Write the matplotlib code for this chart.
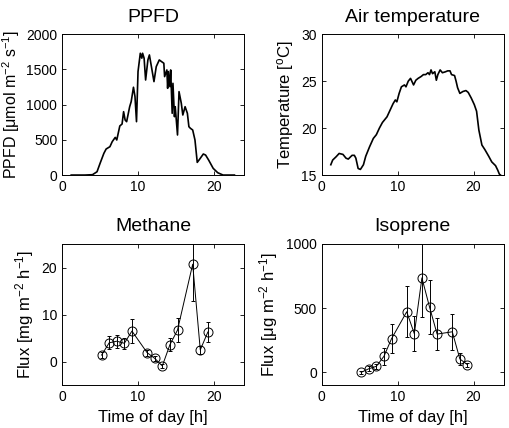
import numpy as np
import matplotlib
matplotlib.use("Agg")
import matplotlib.pyplot as plt

plt.rcParams['font.family'] = ['Liberation Sans', 'DejaVu Sans']
plt.rcParams['mathtext.default'] = 'regular'
plt.rcParams['mathtext.fontset'] = 'custom'
plt.rcParams['mathtext.rm'] = 'Liberation Sans'

# PPFD trace (hour, umol m-2 s-1)
ppfd_t = [1.2, 3.0, 4.0, 4.6, 5.0, 5.5, 5.8, 6.3, 6.6, 7.0, 7.2, 7.6, 7.9, 8.1, 8.3, 8.5,
          8.9, 9.1, 9.4, 9.6, 9.8, 10.0, 10.3, 10.5, 10.6, 10.8, 11.0, 11.3, 11.5, 11.8,
          12.1, 12.4, 12.8, 13.1, 13.4, 13.5, 13.8, 13.9, 14.0, 14.2, 14.3, 14.5, 14.6,
          14.8, 14.9, 15.2, 15.4, 15.7, 15.9, 16.2, 16.5, 16.7, 16.9, 17.2, 17.5, 17.8,
          18.1, 18.6, 18.9, 19.3, 19.9, 20.5, 21.2, 22.7]
ppfd_v = [0, 0, 5, 47, 166, 308, 370, 403, 474, 535, 498, 697, 725, 900, 782, 758,
          971, 1043, 1247, 1114, 758, 1470, 1730, 1660, 1730, 1660, 1350, 1635, 1706, 1517,
          1327, 1540, 1635, 1611, 1588, 1398, 1493, 1232, 1470, 1256, 1493, 877, 1303,
          829, 971, 569, 1185, 1019, 853, 971, 877, 687, 664, 640, 498, 180,
          223, 299, 284, 213, 95, 33, 0, 0]

# air temperature trace (hour, degC)
temp_t = [1.2, 1.45, 1.9, 2.3, 2.8, 3.2, 3.5, 4.0, 4.3, 4.5, 4.8, 5.1, 5.5, 5.8, 6.3,
          6.8, 7.2, 7.6, 8.0, 8.6, 9.0, 9.4, 9.7, 9.9, 10.2, 10.5, 10.9, 11.1, 11.4,
          11.7, 12.1, 12.4, 12.7, 13.1, 13.4, 13.7, 14.0, 14.2, 14.4, 14.6, 14.9, 15.1,
          15.3, 15.6, 15.9, 16.3, 16.6, 16.9, 17.1, 17.5, 17.7, 17.9, 18.2, 18.6, 19.0,
          19.3, 19.7, 20.1, 20.4, 20.7, 21.1, 21.5, 22.0, 22.4, 22.9, 23.2, 23.4, 23.7]
temp_v = [16.1, 16.6, 16.95, 17.3, 17.2, 16.8, 16.7, 17.1, 17.1, 16.8, 15.7, 15.6, 16.1,
          17.0, 18.0, 18.9, 19.3, 20.0, 20.6, 21.2, 21.9, 22.6, 23.0, 22.8, 23.7, 24.4,
          24.6, 24.4, 25.0, 25.3, 24.6, 25.1, 25.3, 25.5, 25.7, 25.7, 25.9, 25.7, 26.2,
          25.8, 26.0, 25.1, 25.7, 26.2, 25.9, 26.0, 26.1, 26.1, 25.7, 25.6, 25.0, 24.3,
          23.7, 23.9, 24.0, 23.8, 23.2, 22.5, 21.8, 19.8, 18.2, 17.7, 17.0, 16.4, 16.0,
          15.5, 15.1, 14.9]

# chamber flux measurements
flux_t = [5.2, 6.2, 7.2, 8.2, 9.2, 11.2, 12.2, 13.2, 14.2, 15.2, 17.2, 18.2, 19.2]
ch4 = [1.4, 4.0, 4.35, 3.9, 6.5, 1.9, 0.7, -0.9, 3.6, 6.7, 20.7, 2.5, 6.3]
ch4_err = [0.6, 1.4, 1.4, 1.2, 2.5, 0.6, 0.5, 0.5, 1.4, 2.5, 7.9, 0.8, 2.2]
iso = [0, 28, 47, 125, 262, 472, 301, 736, 510, 298, 316, 104, 60]
iso_err = [10, 20, 20, 65, 115, 200, 137, 305, 208, 126, 140, 50, 15]

fig = plt.figure(figsize=(5.09, 4.28), dpi=100)
ax1 = fig.add_axes([0.122, 0.591, 0.358, 0.329])
ax2 = fig.add_axes([0.632, 0.591, 0.358, 0.329])
ax3 = fig.add_axes([0.122, 0.100, 0.358, 0.330])
ax4 = fig.add_axes([0.632, 0.100, 0.358, 0.330])

ax1.plot(ppfd_t, ppfd_v, color='k', lw=1.2)
ax1.set_ylim(0, 2000)
ax1.set_yticks([0, 500, 1000, 1500, 2000])
ax1.set_title('PPFD', fontsize=14, pad=9)
ax1.set_ylabel('PPFD [μmol m$^{-2}$ s$^{-1}$]', fontsize=11.5, labelpad=3)

ax2.plot(temp_t, temp_v, color='k', lw=1.2)
ax2.set_ylim(15, 30)
ax2.set_yticks([15, 20, 25, 30])
ax2.set_title('Air temperature', fontsize=14, pad=9)
ax2.set_ylabel('Temperature [$^{o}$C]', fontsize=12)

eb = dict(color='k', lw=0.7, elinewidth=0.7, capsize=1.2, capthick=0.7,
          marker='o', mfc='none', mec='k', ms=6.5, mew=0.7)

ax3.errorbar(flux_t, ch4, yerr=ch4_err, **eb)
ax3.set_ylim(-5, 25)
ax3.set_yticks([0, 10, 20])
ax3.set_title('Methane', fontsize=14, pad=9)
ax3.set_ylabel('Flux [mg m$^{-2}$ h$^{-1}$]', fontsize=12)
ax3.set_xlabel('Time of day [h]', fontsize=12)

ax4.errorbar(flux_t, iso, yerr=iso_err, **eb)
ax4.set_ylim(-100, 1000)
ax4.set_yticks([0, 500, 1000])
ax4.set_title('Isoprene', fontsize=14, pad=9)
ax4.set_ylabel('Flux [μg m$^{-2}$ h$^{-1}$]', fontsize=12)
ax4.set_xlabel('Time of day [h]', fontsize=12)

for ax in (ax1, ax2, ax3, ax4):
    ax.set_xlim(0, 24)
    ax.set_xticks([0, 10, 20])
    ax.tick_params(direction='in', top=True, right=True, labelsize=10, length=3, width=0.6)
    for s in ax.spines.values():
        s.set_linewidth(0.7)

fig.savefig('out.png', dpi=100)
